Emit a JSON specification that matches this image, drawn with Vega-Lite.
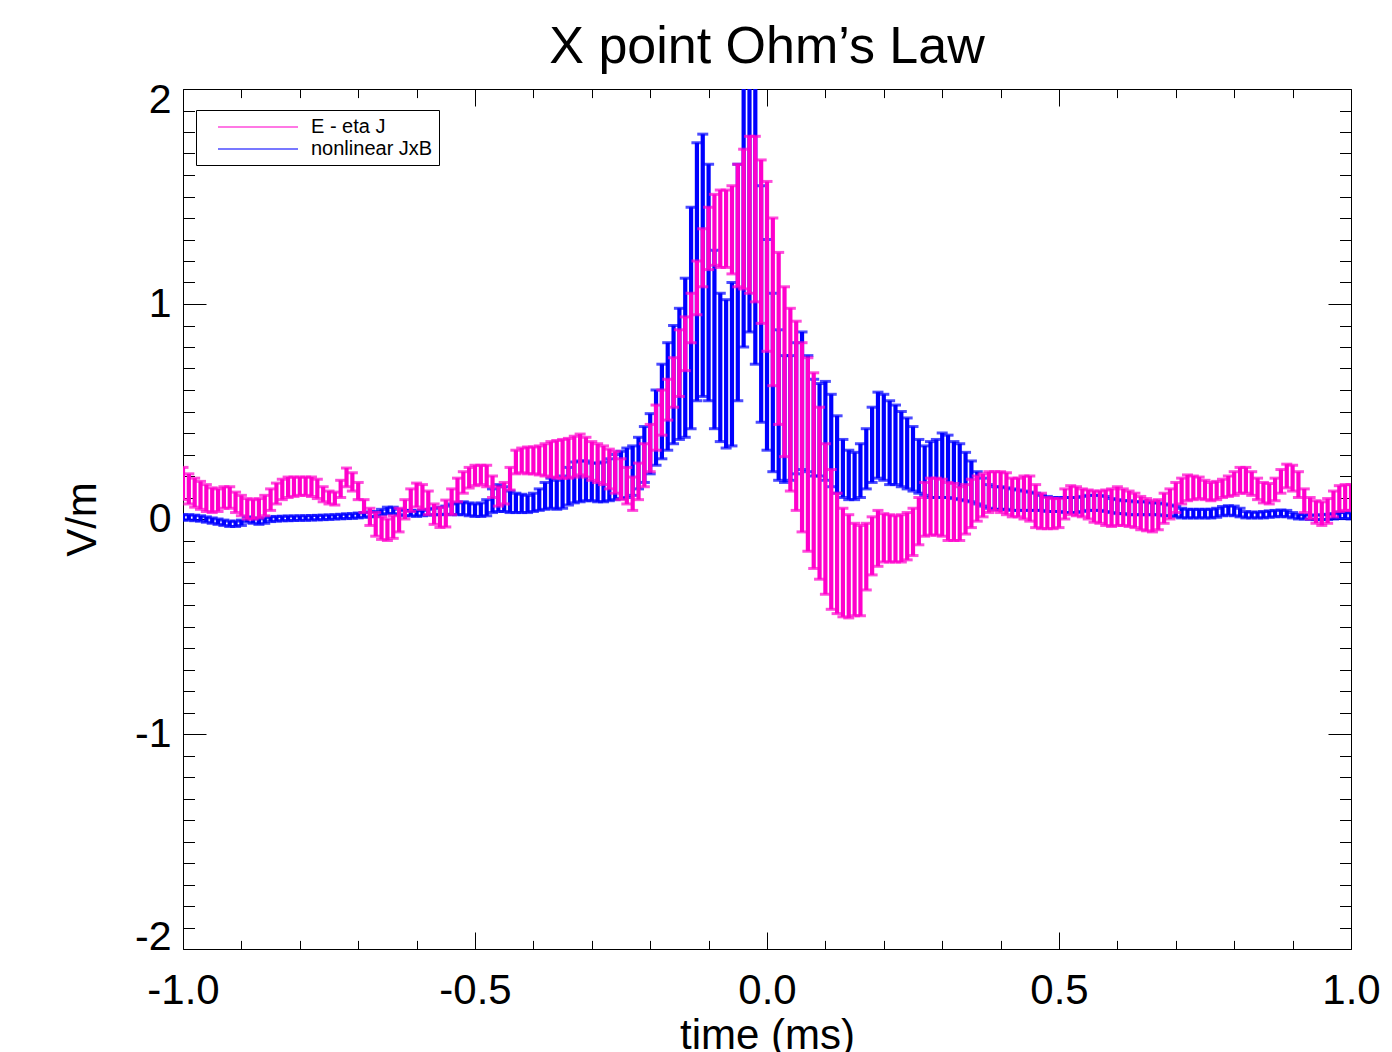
{
  "$schema": "https://vega.github.io/schema/vega-lite/v6.json",
  "autosize": "none",
  "width": 1168,
  "height": 860,
  "padding": {"left": 183, "top": 89, "right": 41, "bottom": 103},
  "background": "white",
  "config": {
    "view": {"stroke": "black", "strokeWidth": 1},
    "font": "Liberation Sans",
    "axis": {"grid": false, "domain": false, "tickColor": "black", "tickWidth": 1, "labelColor": "black", "titleColor": "black", "labelFont": "Liberation Sans", "titleFont": "Liberation Sans", "titleFontWeight": "normal", "zindex": 1}
  },
  "title": {"text": "X point Ohm’s Law", "fontSize": 52, "font": "Liberation Sans", "fontWeight": "normal", "color": "black", "anchor": "middle", "frame": "group", "offset": 12, "baseline": "bottom", "dy": 59},
  "data": {"values": [
{"s":"b","t":-1.00,"lo":-0.005,"hi":0.02},{"s":"b","t":-0.99,"lo":-0.005,"hi":0.02},{"s":"b","t":-0.98,"lo":-0.008,"hi":0.018},{"s":"b","t":-0.97,"lo":-0.01,"hi":0.015},{"s":"b","t":-0.96,"lo":-0.015,"hi":0.01},{"s":"b","t":-0.95,"lo":-0.02,"hi":0.005},{"s":"b","t":-0.94,"lo":-0.025,"hi":0.0},{"s":"b","t":-0.93,"lo":-0.03,"hi":-0.005},{"s":"b","t":-0.92,"lo":-0.035,"hi":-0.01},{"s":"b","t":-0.91,"lo":-0.035,"hi":-0.01},
{"s":"b","t":-0.90,"lo":-0.03,"hi":-0.005},{"s":"b","t":-0.89,"lo":-0.015,"hi":0.01},{"s":"b","t":-0.88,"lo":-0.02,"hi":0.005},{"s":"b","t":-0.87,"lo":-0.025,"hi":0.0},{"s":"b","t":-0.86,"lo":-0.02,"hi":0.005},{"s":"b","t":-0.85,"lo":-0.012,"hi":0.01},{"s":"b","t":-0.84,"lo":-0.01,"hi":0.012},{"s":"b","t":-0.83,"lo":-0.008,"hi":0.013},{"s":"b","t":-0.82,"lo":-0.008,"hi":0.014},{"s":"b","t":-0.81,"lo":-0.007,"hi":0.014},
{"s":"b","t":-0.80,"lo":-0.006,"hi":0.015},{"s":"b","t":-0.79,"lo":-0.006,"hi":0.015},{"s":"b","t":-0.78,"lo":-0.005,"hi":0.016},{"s":"b","t":-0.77,"lo":-0.004,"hi":0.017},{"s":"b","t":-0.76,"lo":-0.003,"hi":0.018},{"s":"b","t":-0.75,"lo":-0.002,"hi":0.019},{"s":"b","t":-0.74,"lo":0.0,"hi":0.02},{"s":"b","t":-0.73,"lo":0.001,"hi":0.022},{"s":"b","t":-0.72,"lo":0.002,"hi":0.024},{"s":"b","t":-0.71,"lo":0.003,"hi":0.025},
{"s":"b","t":-0.70,"lo":0.005,"hi":0.028},{"s":"b","t":-0.69,"lo":0.008,"hi":0.03},{"s":"b","t":-0.68,"lo":0.01,"hi":0.033},{"s":"b","t":-0.67,"lo":0.012,"hi":0.035},{"s":"b","t":-0.66,"lo":0.02,"hi":0.045},{"s":"b","t":-0.65,"lo":0.025,"hi":0.055},{"s":"b","t":-0.64,"lo":0.025,"hi":0.055},{"s":"b","t":-0.63,"lo":0.02,"hi":0.045},{"s":"b","t":-0.62,"lo":0.015,"hi":0.04},{"s":"b","t":-0.61,"lo":0.015,"hi":0.04},
{"s":"b","t":-0.60,"lo":0.012,"hi":0.038},{"s":"b","t":-0.59,"lo":0.015,"hi":0.04},{"s":"b","t":-0.58,"lo":0.018,"hi":0.045},{"s":"b","t":-0.57,"lo":0.02,"hi":0.05},{"s":"b","t":-0.56,"lo":0.02,"hi":0.055},{"s":"b","t":-0.55,"lo":0.022,"hi":0.06},{"s":"b","t":-0.54,"lo":0.02,"hi":0.07},{"s":"b","t":-0.53,"lo":0.02,"hi":0.075},{"s":"b","t":-0.52,"lo":0.02,"hi":0.08},{"s":"b","t":-0.51,"lo":0.015,"hi":0.075},
{"s":"b","t":-0.50,"lo":0.012,"hi":0.07},{"s":"b","t":-0.49,"lo":0.012,"hi":0.075},{"s":"b","t":-0.48,"lo":0.015,"hi":0.09},{"s":"b","t":-0.47,"lo":0.03,"hi":0.14},{"s":"b","t":-0.46,"lo":0.035,"hi":0.16},{"s":"b","t":-0.45,"lo":0.035,"hi":0.15},{"s":"b","t":-0.44,"lo":0.03,"hi":0.13},{"s":"b","t":-0.43,"lo":0.03,"hi":0.12},{"s":"b","t":-0.42,"lo":0.03,"hi":0.115},{"s":"b","t":-0.41,"lo":0.03,"hi":0.11},
{"s":"b","t":-0.40,"lo":0.035,"hi":0.12},{"s":"b","t":-0.39,"lo":0.04,"hi":0.14},{"s":"b","t":-0.38,"lo":0.045,"hi":0.17},{"s":"b","t":-0.37,"lo":0.05,"hi":0.19},{"s":"b","t":-0.36,"lo":0.045,"hi":0.18},{"s":"b","t":-0.35,"lo":0.05,"hi":0.2},{"s":"b","t":-0.34,"lo":0.065,"hi":0.24},{"s":"b","t":-0.33,"lo":0.075,"hi":0.265},{"s":"b","t":-0.32,"lo":0.08,"hi":0.27},{"s":"b","t":-0.31,"lo":0.085,"hi":0.27},
{"s":"b","t":-0.30,"lo":0.085,"hi":0.26},{"s":"b","t":-0.29,"lo":0.08,"hi":0.26},{"s":"b","t":-0.28,"lo":0.08,"hi":0.265},{"s":"b","t":-0.27,"lo":0.085,"hi":0.28},{"s":"b","t":-0.26,"lo":0.09,"hi":0.3},{"s":"b","t":-0.25,"lo":0.095,"hi":0.315},{"s":"b","t":-0.24,"lo":0.1,"hi":0.33},{"s":"b","t":-0.23,"lo":0.11,"hi":0.34},{"s":"b","t":-0.22,"lo":0.14,"hi":0.38},{"s":"b","t":-0.21,"lo":0.17,"hi":0.43},
{"s":"b","t":-0.20,"lo":0.21,"hi":0.49},{"s":"b","t":-0.19,"lo":0.25,"hi":0.6},{"s":"b","t":-0.18,"lo":0.28,"hi":0.72},{"s":"b","t":-0.17,"lo":0.32,"hi":0.82},{"s":"b","t":-0.16,"lo":0.35,"hi":0.9},{"s":"b","t":-0.15,"lo":0.37,"hi":0.98},{"s":"b","t":-0.14,"lo":0.38,"hi":1.12},{"s":"b","t":-0.13,"lo":0.42,"hi":1.45},{"s":"b","t":-0.12,"lo":0.55,"hi":1.75},{"s":"b","t":-0.11,"lo":0.57,"hi":1.79},
{"s":"b","t":-0.10,"lo":0.55,"hi":1.65},{"s":"b","t":-0.09,"lo":0.42,"hi":1.25},{"s":"b","t":-0.08,"lo":0.36,"hi":1.05},{"s":"b","t":-0.07,"lo":0.33,"hi":1.02},{"s":"b","t":-0.06,"lo":0.34,"hi":1.1},{"s":"b","t":-0.05,"lo":0.55,"hi":1.65},{"s":"b","t":-0.04,"lo":0.8,"hi":2.3},{"s":"b","t":-0.03,"lo":0.87,"hi":2.5},{"s":"b","t":-0.02,"lo":0.72,"hi":2.1},{"s":"b","t":-0.01,"lo":0.45,"hi":1.55},
{"s":"b","t":0.00,"lo":0.32,"hi":1.3},{"s":"b","t":0.01,"lo":0.22,"hi":1.05},{"s":"b","t":0.02,"lo":0.18,"hi":0.88},{"s":"b","t":0.03,"lo":0.17,"hi":0.76},{"s":"b","t":0.04,"lo":0.18,"hi":0.76},{"s":"b","t":0.05,"lo":0.21,"hi":0.82},{"s":"b","t":0.06,"lo":0.23,"hi":0.87},{"s":"b","t":0.07,"lo":0.22,"hi":0.76},{"s":"b","t":0.08,"lo":0.2,"hi":0.65},{"s":"b","t":0.09,"lo":0.2,"hi":0.63},
{"s":"b","t":0.10,"lo":0.18,"hi":0.64},{"s":"b","t":0.11,"lo":0.15,"hi":0.58},{"s":"b","t":0.12,"lo":0.12,"hi":0.48},{"s":"b","t":0.13,"lo":0.1,"hi":0.37},{"s":"b","t":0.14,"lo":0.09,"hi":0.32},{"s":"b","t":0.15,"lo":0.09,"hi":0.31},{"s":"b","t":0.16,"lo":0.1,"hi":0.35},{"s":"b","t":0.17,"lo":0.14,"hi":0.42},{"s":"b","t":0.18,"lo":0.17,"hi":0.52},{"s":"b","t":0.19,"lo":0.19,"hi":0.59},
{"s":"b","t":0.20,"lo":0.18,"hi":0.58},{"s":"b","t":0.21,"lo":0.16,"hi":0.55},{"s":"b","t":0.22,"lo":0.16,"hi":0.53},{"s":"b","t":0.23,"lo":0.15,"hi":0.5},{"s":"b","t":0.24,"lo":0.14,"hi":0.47},{"s":"b","t":0.25,"lo":0.13,"hi":0.43},{"s":"b","t":0.26,"lo":0.12,"hi":0.37},{"s":"b","t":0.27,"lo":0.11,"hi":0.34},{"s":"b","t":0.28,"lo":0.1,"hi":0.36},{"s":"b","t":0.29,"lo":0.1,"hi":0.37},
{"s":"b","t":0.30,"lo":0.1,"hi":0.4},{"s":"b","t":0.31,"lo":0.1,"hi":0.39},{"s":"b","t":0.32,"lo":0.095,"hi":0.36},{"s":"b","t":0.33,"lo":0.09,"hi":0.35},{"s":"b","t":0.34,"lo":0.085,"hi":0.31},{"s":"b","t":0.35,"lo":0.08,"hi":0.27},{"s":"b","t":0.36,"lo":0.07,"hi":0.22},{"s":"b","t":0.37,"lo":0.06,"hi":0.19},{"s":"b","t":0.38,"lo":0.05,"hi":0.16},{"s":"b","t":0.39,"lo":0.045,"hi":0.15},
{"s":"b","t":0.40,"lo":0.045,"hi":0.15},{"s":"b","t":0.41,"lo":0.045,"hi":0.145},{"s":"b","t":0.42,"lo":0.04,"hi":0.14},{"s":"b","t":0.43,"lo":0.04,"hi":0.135},{"s":"b","t":0.44,"lo":0.04,"hi":0.13},{"s":"b","t":0.45,"lo":0.04,"hi":0.125},{"s":"b","t":0.46,"lo":0.04,"hi":0.12},{"s":"b","t":0.47,"lo":0.04,"hi":0.11},{"s":"b","t":0.48,"lo":0.035,"hi":0.105},{"s":"b","t":0.49,"lo":0.035,"hi":0.1},
{"s":"b","t":0.50,"lo":0.035,"hi":0.1},{"s":"b","t":0.51,"lo":0.03,"hi":0.1},{"s":"b","t":0.52,"lo":0.03,"hi":0.1},{"s":"b","t":0.53,"lo":0.03,"hi":0.1},{"s":"b","t":0.54,"lo":0.035,"hi":0.105},{"s":"b","t":0.55,"lo":0.04,"hi":0.11},{"s":"b","t":0.56,"lo":0.04,"hi":0.11},{"s":"b","t":0.57,"lo":0.04,"hi":0.11},{"s":"b","t":0.58,"lo":0.035,"hi":0.105},{"s":"b","t":0.59,"lo":0.03,"hi":0.095},
{"s":"b","t":0.60,"lo":0.025,"hi":0.09},{"s":"b","t":0.61,"lo":0.025,"hi":0.085},{"s":"b","t":0.62,"lo":0.02,"hi":0.085},{"s":"b","t":0.63,"lo":0.02,"hi":0.08},{"s":"b","t":0.64,"lo":0.02,"hi":0.08},{"s":"b","t":0.65,"lo":0.02,"hi":0.08},{"s":"b","t":0.66,"lo":0.02,"hi":0.075},{"s":"b","t":0.67,"lo":0.02,"hi":0.075},{"s":"b","t":0.68,"lo":0.015,"hi":0.07},{"s":"b","t":0.69,"lo":0.015,"hi":0.065},
{"s":"b","t":0.70,"lo":0.01,"hi":0.06},{"s":"b","t":0.71,"lo":0.005,"hi":0.05},{"s":"b","t":0.72,"lo":0.005,"hi":0.045},{"s":"b","t":0.73,"lo":0.005,"hi":0.045},{"s":"b","t":0.74,"lo":0.005,"hi":0.045},{"s":"b","t":0.75,"lo":0.005,"hi":0.045},{"s":"b","t":0.76,"lo":0.005,"hi":0.045},{"s":"b","t":0.77,"lo":0.008,"hi":0.05},{"s":"b","t":0.78,"lo":0.015,"hi":0.058},{"s":"b","t":0.79,"lo":0.018,"hi":0.062},
{"s":"b","t":0.80,"lo":0.015,"hi":0.06},{"s":"b","t":0.81,"lo":0.01,"hi":0.05},{"s":"b","t":0.82,"lo":0.005,"hi":0.035},{"s":"b","t":0.83,"lo":0.005,"hi":0.032},{"s":"b","t":0.84,"lo":0.005,"hi":0.032},{"s":"b","t":0.85,"lo":0.005,"hi":0.035},{"s":"b","t":0.86,"lo":0.008,"hi":0.038},{"s":"b","t":0.87,"lo":0.01,"hi":0.04},{"s":"b","t":0.88,"lo":0.012,"hi":0.042},{"s":"b","t":0.89,"lo":0.01,"hi":0.04},
{"s":"b","t":0.90,"lo":0.005,"hi":0.03},{"s":"b","t":0.91,"lo":0.0,"hi":0.022},{"s":"b","t":0.92,"lo":0.0,"hi":0.02},{"s":"b","t":0.93,"lo":-0.002,"hi":0.018},{"s":"b","t":0.94,"lo":-0.003,"hi":0.018},{"s":"b","t":0.95,"lo":-0.003,"hi":0.02},{"s":"b","t":0.96,"lo":-0.002,"hi":0.022},{"s":"b","t":0.97,"lo":0.0,"hi":0.025},{"s":"b","t":0.98,"lo":0.002,"hi":0.03},{"s":"b","t":0.99,"lo":0.002,"hi":0.03},
{"s":"b","t":1.00,"lo":0.0,"hi":0.028},
{"s":"p","t":-1.00,"lo":0.09,"hi":0.24},{"s":"p","t":-0.99,"lo":0.07,"hi":0.21},{"s":"p","t":-0.98,"lo":0.055,"hi":0.19},{"s":"p","t":-0.97,"lo":0.045,"hi":0.175},{"s":"p","t":-0.96,"lo":0.035,"hi":0.16},{"s":"p","t":-0.95,"lo":0.03,"hi":0.145},{"s":"p","t":-0.94,"lo":0.035,"hi":0.14},{"s":"p","t":-0.93,"lo":0.05,"hi":0.15},{"s":"p","t":-0.92,"lo":0.05,"hi":0.15},{"s":"p","t":-0.91,"lo":0.03,"hi":0.125},
{"s":"p","t":-0.90,"lo":0.015,"hi":0.11},{"s":"p","t":-0.89,"lo":0.0,"hi":0.095},{"s":"p","t":-0.88,"lo":0.0,"hi":0.09},{"s":"p","t":-0.87,"lo":0.005,"hi":0.095},{"s":"p","t":-0.86,"lo":0.015,"hi":0.11},{"s":"p","t":-0.85,"lo":0.04,"hi":0.14},{"s":"p","t":-0.84,"lo":0.07,"hi":0.167},{"s":"p","t":-0.83,"lo":0.09,"hi":0.185},{"s":"p","t":-0.82,"lo":0.1,"hi":0.195},{"s":"p","t":-0.81,"lo":0.105,"hi":0.195},
{"s":"p","t":-0.80,"lo":0.11,"hi":0.195},{"s":"p","t":-0.79,"lo":0.11,"hi":0.195},{"s":"p","t":-0.78,"lo":0.105,"hi":0.195},{"s":"p","t":-0.77,"lo":0.095,"hi":0.185},{"s":"p","t":-0.76,"lo":0.08,"hi":0.15},{"s":"p","t":-0.75,"lo":0.07,"hi":0.13},{"s":"p","t":-0.74,"lo":0.065,"hi":0.125},{"s":"p","t":-0.73,"lo":0.1,"hi":0.18},{"s":"p","t":-0.72,"lo":0.15,"hi":0.237},{"s":"p","t":-0.71,"lo":0.13,"hi":0.215},
{"s":"p","t":-0.70,"lo":0.09,"hi":0.17},{"s":"p","t":-0.69,"lo":0.03,"hi":0.09},{"s":"p","t":-0.68,"lo":-0.03,"hi":0.05},{"s":"p","t":-0.67,"lo":-0.08,"hi":0.03},{"s":"p","t":-0.66,"lo":-0.095,"hi":0.01},{"s":"p","t":-0.65,"lo":-0.1,"hi":0.0},{"s":"p","t":-0.64,"lo":-0.09,"hi":0.015},{"s":"p","t":-0.63,"lo":-0.06,"hi":0.05},{"s":"p","t":-0.62,"lo":0.0,"hi":0.09},{"s":"p","t":-0.61,"lo":0.035,"hi":0.14},
{"s":"p","t":-0.60,"lo":0.056,"hi":0.167},{"s":"p","t":-0.59,"lo":0.045,"hi":0.16},{"s":"p","t":-0.58,"lo":0.02,"hi":0.13},{"s":"p","t":-0.57,"lo":-0.025,"hi":0.07},{"s":"p","t":-0.56,"lo":-0.04,"hi":0.055},{"s":"p","t":-0.55,"lo":-0.037,"hi":0.088},{"s":"p","t":-0.54,"lo":0.02,"hi":0.14},{"s":"p","t":-0.53,"lo":0.08,"hi":0.19},{"s":"p","t":-0.52,"lo":0.12,"hi":0.22},{"s":"p","t":-0.51,"lo":0.144,"hi":0.24},
{"s":"p","t":-0.50,"lo":0.155,"hi":0.25},{"s":"p","t":-0.49,"lo":0.16,"hi":0.25},{"s":"p","t":-0.48,"lo":0.15,"hi":0.25},{"s":"p","t":-0.47,"lo":0.1,"hi":0.2},{"s":"p","t":-0.46,"lo":0.06,"hi":0.15},{"s":"p","t":-0.45,"lo":0.07,"hi":0.17},{"s":"p","t":-0.44,"lo":0.135,"hi":0.24},{"s":"p","t":-0.43,"lo":0.21,"hi":0.32},{"s":"p","t":-0.42,"lo":0.215,"hi":0.33},{"s":"p","t":-0.41,"lo":0.21,"hi":0.335},
{"s":"p","t":-0.40,"lo":0.21,"hi":0.335},{"s":"p","t":-0.39,"lo":0.205,"hi":0.34},{"s":"p","t":-0.38,"lo":0.2,"hi":0.35},{"s":"p","t":-0.37,"lo":0.195,"hi":0.36},{"s":"p","t":-0.36,"lo":0.19,"hi":0.365},{"s":"p","t":-0.35,"lo":0.19,"hi":0.37},{"s":"p","t":-0.34,"lo":0.19,"hi":0.375},{"s":"p","t":-0.33,"lo":0.195,"hi":0.385},{"s":"p","t":-0.32,"lo":0.205,"hi":0.395},{"s":"p","t":-0.31,"lo":0.195,"hi":0.38},
{"s":"p","t":-0.30,"lo":0.18,"hi":0.36},{"s":"p","t":-0.29,"lo":0.17,"hi":0.35},{"s":"p","t":-0.28,"lo":0.16,"hi":0.34},{"s":"p","t":-0.27,"lo":0.14,"hi":0.325},{"s":"p","t":-0.26,"lo":0.12,"hi":0.315},{"s":"p","t":-0.25,"lo":0.09,"hi":0.28},{"s":"p","t":-0.24,"lo":0.07,"hi":0.24},{"s":"p","t":-0.23,"lo":0.04,"hi":0.195},{"s":"p","t":-0.22,"lo":0.09,"hi":0.26},{"s":"p","t":-0.21,"lo":0.15,"hi":0.35},
{"s":"p","t":-0.20,"lo":0.22,"hi":0.44},{"s":"p","t":-0.19,"lo":0.32,"hi":0.53},{"s":"p","t":-0.18,"lo":0.39,"hi":0.6},{"s":"p","t":-0.17,"lo":0.46,"hi":0.65},{"s":"p","t":-0.16,"lo":0.52,"hi":0.75},{"s":"p","t":-0.15,"lo":0.57,"hi":0.88},{"s":"p","t":-0.14,"lo":0.69,"hi":0.94},{"s":"p","t":-0.13,"lo":0.82,"hi":1.05},{"s":"p","t":-0.12,"lo":0.95,"hi":1.2},{"s":"p","t":-0.11,"lo":1.08,"hi":1.35},
{"s":"p","t":-0.10,"lo":1.16,"hi":1.45},{"s":"p","t":-0.09,"lo":1.18,"hi":1.51},{"s":"p","t":-0.08,"lo":1.17,"hi":1.53},{"s":"p","t":-0.07,"lo":1.17,"hi":1.53},{"s":"p","t":-0.06,"lo":1.14,"hi":1.55},{"s":"p","t":-0.05,"lo":1.08,"hi":1.65},{"s":"p","t":-0.04,"lo":1.07,"hi":1.72},{"s":"p","t":-0.03,"lo":1.05,"hi":1.78},{"s":"p","t":-0.02,"lo":1.01,"hi":1.78},{"s":"p","t":-0.01,"lo":0.91,"hi":1.67},
{"s":"p","t":0.00,"lo":0.78,"hi":1.57},{"s":"p","t":0.01,"lo":0.62,"hi":1.4},{"s":"p","t":0.02,"lo":0.44,"hi":1.24},{"s":"p","t":0.03,"lo":0.29,"hi":1.08},{"s":"p","t":0.04,"lo":0.13,"hi":0.98},{"s":"p","t":0.05,"lo":0.04,"hi":0.92},{"s":"p","t":0.06,"lo":-0.06,"hi":0.82},{"s":"p","t":0.07,"lo":-0.15,"hi":0.75},{"s":"p","t":0.08,"lo":-0.23,"hi":0.68},{"s":"p","t":0.09,"lo":-0.28,"hi":0.52},
{"s":"p","t":0.10,"lo":-0.35,"hi":0.35},{"s":"p","t":0.11,"lo":-0.42,"hi":0.23},{"s":"p","t":0.12,"lo":-0.44,"hi":0.12},{"s":"p","t":0.13,"lo":-0.455,"hi":0.05},{"s":"p","t":0.14,"lo":-0.46,"hi":0.02},{"s":"p","t":0.15,"lo":-0.45,"hi":-0.02},{"s":"p","t":0.16,"lo":-0.45,"hi":-0.03},{"s":"p","t":0.17,"lo":-0.33,"hi":-0.02},{"s":"p","t":0.18,"lo":-0.26,"hi":0.01},{"s":"p","t":0.19,"lo":-0.22,"hi":0.04},
{"s":"p","t":0.20,"lo":-0.2,"hi":0.025},{"s":"p","t":0.21,"lo":-0.2,"hi":0.02},{"s":"p","t":0.22,"lo":-0.2,"hi":0.015},{"s":"p","t":0.23,"lo":-0.2,"hi":0.02},{"s":"p","t":0.24,"lo":-0.19,"hi":0.03},{"s":"p","t":0.25,"lo":-0.17,"hi":0.05},{"s":"p","t":0.26,"lo":-0.12,"hi":0.1},{"s":"p","t":0.27,"lo":-0.08,"hi":0.17},{"s":"p","t":0.28,"lo":-0.075,"hi":0.19},{"s":"p","t":0.29,"lo":-0.075,"hi":0.19},
{"s":"p","t":0.30,"lo":-0.08,"hi":0.185},{"s":"p","t":0.31,"lo":-0.1,"hi":0.17},{"s":"p","t":0.32,"lo":-0.1,"hi":0.165},{"s":"p","t":0.33,"lo":-0.1,"hi":0.15},{"s":"p","t":0.34,"lo":-0.07,"hi":0.16},{"s":"p","t":0.35,"lo":-0.04,"hi":0.185},{"s":"p","t":0.36,"lo":-0.01,"hi":0.2},{"s":"p","t":0.37,"lo":0.01,"hi":0.21},{"s":"p","t":0.38,"lo":0.03,"hi":0.22},{"s":"p","t":0.39,"lo":0.04,"hi":0.22},
{"s":"p","t":0.40,"lo":0.03,"hi":0.22},{"s":"p","t":0.41,"lo":0.02,"hi":0.215},{"s":"p","t":0.42,"lo":0.01,"hi":0.19},{"s":"p","t":0.43,"lo":0.01,"hi":0.19},{"s":"p","t":0.44,"lo":0.0,"hi":0.2},{"s":"p","t":0.45,"lo":-0.01,"hi":0.2},{"s":"p","t":0.46,"lo":-0.04,"hi":0.16},{"s":"p","t":0.47,"lo":-0.045,"hi":0.12},{"s":"p","t":0.48,"lo":-0.045,"hi":0.1},{"s":"p","t":0.49,"lo":-0.045,"hi":0.095},
{"s":"p","t":0.50,"lo":-0.04,"hi":0.095},{"s":"p","t":0.51,"lo":0.0,"hi":0.14},{"s":"p","t":0.52,"lo":0.02,"hi":0.155},{"s":"p","t":0.53,"lo":0.015,"hi":0.15},{"s":"p","t":0.54,"lo":0.01,"hi":0.14},{"s":"p","t":0.55,"lo":0.0,"hi":0.135},{"s":"p","t":0.56,"lo":-0.015,"hi":0.13},{"s":"p","t":0.57,"lo":-0.02,"hi":0.13},{"s":"p","t":0.58,"lo":-0.03,"hi":0.135},{"s":"p","t":0.59,"lo":-0.035,"hi":0.14},
{"s":"p","t":0.60,"lo":-0.03,"hi":0.15},{"s":"p","t":0.61,"lo":-0.03,"hi":0.14},{"s":"p","t":0.62,"lo":-0.035,"hi":0.13},{"s":"p","t":0.63,"lo":-0.04,"hi":0.12},{"s":"p","t":0.64,"lo":-0.05,"hi":0.105},{"s":"p","t":0.65,"lo":-0.055,"hi":0.095},{"s":"p","t":0.66,"lo":-0.06,"hi":0.085},{"s":"p","t":0.67,"lo":-0.05,"hi":0.09},{"s":"p","t":0.68,"lo":-0.02,"hi":0.12},{"s":"p","t":0.69,"lo":0.0,"hi":0.14},
{"s":"p","t":0.70,"lo":0.03,"hi":0.17},{"s":"p","t":0.71,"lo":0.07,"hi":0.19},{"s":"p","t":0.72,"lo":0.085,"hi":0.205},{"s":"p","t":0.73,"lo":0.09,"hi":0.2},{"s":"p","t":0.74,"lo":0.095,"hi":0.195},{"s":"p","t":0.75,"lo":0.09,"hi":0.18},{"s":"p","t":0.76,"lo":0.085,"hi":0.17},{"s":"p","t":0.77,"lo":0.09,"hi":0.175},{"s":"p","t":0.78,"lo":0.1,"hi":0.185},{"s":"p","t":0.79,"lo":0.105,"hi":0.2},
{"s":"p","t":0.80,"lo":0.11,"hi":0.22},{"s":"p","t":0.81,"lo":0.12,"hi":0.24},{"s":"p","t":0.82,"lo":0.12,"hi":0.24},{"s":"p","t":0.83,"lo":0.11,"hi":0.22},{"s":"p","t":0.84,"lo":0.09,"hi":0.19},{"s":"p","t":0.85,"lo":0.075,"hi":0.17},{"s":"p","t":0.86,"lo":0.07,"hi":0.165},{"s":"p","t":0.87,"lo":0.085,"hi":0.19},{"s":"p","t":0.88,"lo":0.12,"hi":0.23},{"s":"p","t":0.89,"lo":0.145,"hi":0.255},
{"s":"p","t":0.90,"lo":0.13,"hi":0.25},{"s":"p","t":0.91,"lo":0.1,"hi":0.22},{"s":"p","t":0.92,"lo":0.03,"hi":0.14},{"s":"p","t":0.93,"lo":0.0,"hi":0.1},{"s":"p","t":0.94,"lo":-0.02,"hi":0.085},{"s":"p","t":0.95,"lo":-0.03,"hi":0.08},{"s":"p","t":0.96,"lo":-0.02,"hi":0.095},{"s":"p","t":0.97,"lo":0.01,"hi":0.13},{"s":"p","t":0.98,"lo":0.035,"hi":0.155},{"s":"p","t":0.99,"lo":0.04,"hi":0.16},
{"s":"p","t":1.00,"lo":0.04,"hi":0.16}
  ]},
  "encoding": {
    "color": {"field": "s", "type": "nominal", "scale": {"domain": ["p", "b"], "range": ["#ff00cc", "#0000ff"]},
      "legend": {"title": null, "orient": "none", "legendX": 13, "legendY": 21, "symbolType": "M-4,0H4", "symbolSize": 400, "symbolStrokeWidth": 1.5, "symbolOffset": 45, "labelFontSize": 20, "labelFont": "Liberation Sans", "labelColor": "black", "strokeColor": "black", "fillColor": "white", "padding": 6, "rowPadding": 1, "labelOffset": 42, "labelExpr": "datum.label == 'p' ? 'E - eta J' : 'nonlinear JxB'"}}
  },
  "layer": [
    {
      "transform": [{"filter": "datum.s == 'b'"}],
      "mark": {"type": "rule", "strokeWidth": 4.2, "clip": true},
      "encoding": {
        "x": {"field": "t", "type": "quantitative", "scale": {"domain": [-1, 1], "nice": false, "zero": false},
          "axis": {"orient": "bottom", "values": [-1, -0.5, 0, 0.5, 1], "ticks": false, "labelFlush": false, "labelFontSize": 42, "labelPadding": 21, "labelExpr": "datum.value < 0 ? '-' + format(-datum.value, '.1f') : format(datum.value, '.1f')", "title": "time (ms)", "titleFontSize": 42, "titlePadding": 4}},
        "y": {"field": "lo", "type": "quantitative", "scale": {"domain": [-2, 2], "nice": false, "zero": false},
          "axis": {"orient": "left", "values": [-2, -1, 0, 1, 2], "ticks": false, "labelFlush": true, "labelFlushOffset": 9, "labelFontSize": 41, "labelPadding": 12, "labelExpr": "datum.value < 0 ? '-' + format(-datum.value, 'd') : format(datum.value, 'd')", "title": "V/m", "titleFontSize": 42, "titlePadding": 30}},
        "y2": {"field": "hi"}
      }
    },
    {
      "transform": [{"filter": "datum.s == 'b'"}],
      "mark": {"type": "tick", "orient": "horizontal", "size": 11, "thickness": 3, "clip": true},
      "encoding": {
        "x": {"field": "t", "type": "quantitative", "axis": {"orient": "bottom", "values": [-1, -0.5, 0, 0.5, 1], "labels": false, "tickSize": -17, "title": null}},
        "y": {"field": "lo", "type": "quantitative", "axis": {"orient": "left", "values": [-2, -1, 0, 1, 2], "labels": false, "tickSize": -23, "title": null}}
      }
    },
    {
      "transform": [{"filter": "datum.s == 'b'"}],
      "mark": {"type": "tick", "orient": "horizontal", "size": 11, "thickness": 3, "clip": true},
      "encoding": {
        "x": {"field": "t", "type": "quantitative", "axis": {"orient": "bottom", "values": [-0.9, -0.8, -0.7, -0.6, -0.4, -0.3, -0.2, -0.1, 0.1, 0.2, 0.3, 0.4, 0.6, 0.7, 0.8, 0.9], "labels": false, "tickSize": -8.6, "title": null}},
        "y": {"field": "hi", "type": "quantitative", "axis": {"orient": "left", "values": [-1.9, -1.8, -1.7, -1.6, -1.5, -1.4, -1.3, -1.2, -1.1, -0.9, -0.8, -0.7, -0.6, -0.5, -0.4, -0.3, -0.2, -0.1, 0.1, 0.2, 0.3, 0.4, 0.5, 0.6, 0.7, 0.8, 0.9, 1.1, 1.2, 1.3, 1.4, 1.5, 1.6, 1.7, 1.8, 1.9], "labels": false, "tickSize": -11.5, "title": null}}
      }
    },
    {
      "transform": [{"filter": "datum.s == 'p'"}],
      "mark": {"type": "rule", "strokeWidth": 4.2, "clip": true},
      "encoding": {
        "x": {"field": "t", "type": "quantitative", "axis": {"orient": "top", "values": [-1, -0.5, 0, 0.5, 1], "labels": false, "tickSize": -17, "title": null}},
        "y": {"field": "lo", "type": "quantitative", "axis": {"orient": "right", "values": [-2, -1, 0, 1, 2], "labels": false, "tickSize": -23, "title": null}},
        "y2": {"field": "hi"}
      }
    },
    {
      "transform": [{"filter": "datum.s == 'p'"}],
      "mark": {"type": "tick", "orient": "horizontal", "size": 11, "thickness": 3, "clip": true},
      "encoding": {
        "x": {"field": "t", "type": "quantitative", "axis": {"orient": "top", "values": [-0.9, -0.8, -0.7, -0.6, -0.4, -0.3, -0.2, -0.1, 0.1, 0.2, 0.3, 0.4, 0.6, 0.7, 0.8, 0.9], "labels": false, "tickSize": -8.6, "title": null}},
        "y": {"field": "lo", "type": "quantitative", "axis": {"orient": "right", "values": [-1.9, -1.8, -1.7, -1.6, -1.5, -1.4, -1.3, -1.2, -1.1, -0.9, -0.8, -0.7, -0.6, -0.5, -0.4, -0.3, -0.2, -0.1, 0.1, 0.2, 0.3, 0.4, 0.5, 0.6, 0.7, 0.8, 0.9, 1.1, 1.2, 1.3, 1.4, 1.5, 1.6, 1.7, 1.8, 1.9], "labels": false, "tickSize": -11.5, "title": null}}
      }
    },
    {
      "transform": [{"filter": "datum.s == 'p'"}],
      "mark": {"type": "tick", "orient": "horizontal", "size": 11, "thickness": 3, "clip": true},
      "encoding": {
        "x": {"field": "t", "type": "quantitative", "axis": null},
        "y": {"field": "hi", "type": "quantitative", "axis": null}
      }
    }
  ],
  "resolve": {"axis": {"x": "independent", "y": "independent"}}
}
